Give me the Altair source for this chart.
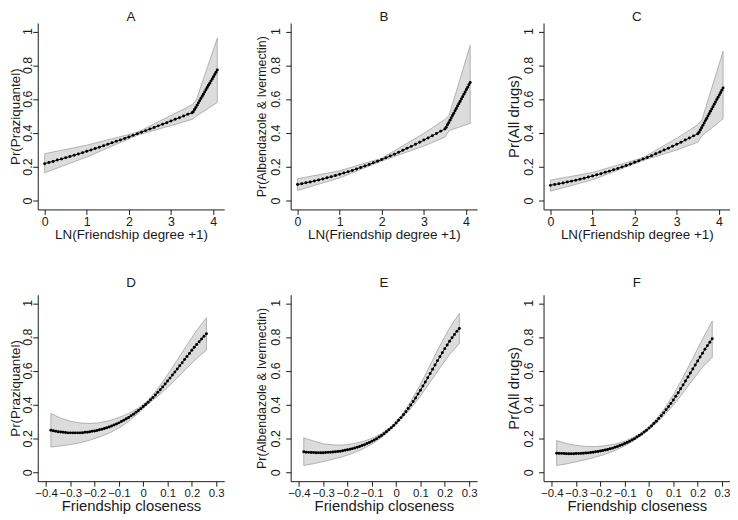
import altair as alt
import pandas as pd

# ---------------- data ----------------
# Top row: x = LN(Friendship degree +1)
X_DEG_MAIN = [0.0, 0.1, 0.2, 0.3, 0.4, 0.5, 0.6, 0.7, 0.8, 0.9, 1.0, 1.1, 1.2, 1.3, 1.4, 1.5,
              1.6, 1.7, 1.8, 1.9, 2.0, 2.1, 2.2, 2.3, 2.4, 2.5, 2.6, 2.7, 2.8, 2.9, 3.0, 3.1,
              3.2, 3.3, 3.4, 3.5]
X_DEG_STEEP = [3.53, 3.56, 3.59, 3.62, 3.65, 3.68, 3.71, 3.74, 3.77, 3.80, 3.83, 3.86, 3.89,
               3.92, 3.95, 3.98, 4.01, 4.04, 4.07, 4.10]

A_MAIN = [0.220, 0.227, 0.233, 0.241, 0.248, 0.255, 0.262, 0.270, 0.277, 0.285, 0.293, 0.301,
          0.309, 0.317, 0.326, 0.334, 0.343, 0.352, 0.360, 0.369, 0.378, 0.387, 0.397, 0.406,
          0.415, 0.424, 0.434, 0.443, 0.453, 0.462, 0.472, 0.482, 0.491, 0.501, 0.511, 0.520]
A_STEEP = [0.526, 0.539, 0.552, 0.565, 0.578, 0.591, 0.604, 0.617, 0.630, 0.643, 0.656, 0.669,
           0.682, 0.694, 0.707, 0.720, 0.733, 0.746, 0.759, 0.772]
B_MAIN = [0.097, 0.102, 0.107, 0.112, 0.118, 0.124, 0.130, 0.137, 0.143, 0.150, 0.157, 0.165,
          0.172, 0.180, 0.189, 0.197, 0.206, 0.215, 0.225, 0.234, 0.244, 0.255, 0.265, 0.276,
          0.287, 0.299, 0.311, 0.322, 0.334, 0.347, 0.359, 0.372, 0.385, 0.398, 0.412, 0.425]
B_STEEP = [0.435, 0.449, 0.462, 0.476, 0.490, 0.504, 0.518, 0.532, 0.546, 0.560, 0.574, 0.587,
           0.601, 0.615, 0.629, 0.643, 0.657, 0.671, 0.685, 0.699]
C_MAIN = [0.092, 0.097, 0.101, 0.106, 0.112, 0.117, 0.122, 0.128, 0.134, 0.141, 0.147, 0.154,
          0.161, 0.169, 0.176, 0.184, 0.192, 0.201, 0.209, 0.218, 0.228, 0.237, 0.247, 0.257,
          0.267, 0.278, 0.289, 0.300, 0.311, 0.323, 0.334, 0.346, 0.359, 0.371, 0.384, 0.396]
C_STEEP = [0.405, 0.418, 0.432, 0.446, 0.460, 0.474, 0.487, 0.501, 0.515, 0.529, 0.543, 0.556,
           0.570, 0.584, 0.598, 0.612, 0.625, 0.639, 0.653, 0.667]

# confidence bands, top row
A_BAND_X = [0, 1, 2.2, 3, 3.5, 3.6, 4.1]
A_BAND_HI = [0.279, 0.329, 0.405, 0.504, 0.567, 0.595, 0.960]
A_BAND_LO = [0.166, 0.259, 0.388, 0.445, 0.481, 0.500, 0.581]
B_BAND_X = [0, 1, 2, 3, 3.5, 3.6, 4.1]
B_BAND_HI = [0.131, 0.178, 0.252, 0.399, 0.481, 0.506, 0.918]
B_BAND_LO = [0.062, 0.136, 0.236, 0.324, 0.376, 0.415, 0.458]
C_BAND_X = [0, 1, 2.2, 3, 3.5, 3.6, 4.1]
C_BAND_HI = [0.123, 0.168, 0.255, 0.370, 0.450, 0.480, 0.883]
C_BAND_LO = [0.058, 0.125, 0.239, 0.301, 0.347, 0.385, 0.485]

# Bottom row: x = Friendship closeness
X_CLOSE = [-0.38, -0.37, -0.36, -0.35, -0.34, -0.33, -0.32, -0.31, -0.30, -0.29, -0.28, -0.27,
           -0.26, -0.25, -0.24, -0.23, -0.22, -0.21, -0.20, -0.19, -0.18, -0.17, -0.16, -0.15,
           -0.14, -0.13, -0.12, -0.11, -0.10, -0.09, -0.08, -0.07, -0.06, -0.05, -0.04, -0.03,
           -0.02, -0.01, 0.00, 0.01, 0.02, 0.03, 0.04, 0.05, 0.06, 0.07, 0.08, 0.09, 0.10,
           0.11, 0.12, 0.13, 0.14, 0.15, 0.16, 0.17, 0.18, 0.19, 0.20, 0.21, 0.22, 0.23, 0.24,
           0.25, 0.26]
D_VALS = [0.250, 0.247, 0.244, 0.242, 0.240, 0.238, 0.237, 0.235, 0.235, 0.235, 0.235, 0.235,
          0.235, 0.236, 0.238, 0.239, 0.241, 0.244, 0.246, 0.249, 0.253, 0.256, 0.261, 0.265,
          0.270, 0.276, 0.281, 0.288, 0.294, 0.302, 0.309, 0.318, 0.326, 0.336, 0.345, 0.356,
          0.367, 0.378, 0.390, 0.403, 0.416, 0.430, 0.444, 0.459, 0.474, 0.490, 0.506, 0.523,
          0.541, 0.558, 0.576, 0.594, 0.612, 0.631, 0.649, 0.668, 0.686, 0.704, 0.722, 0.740,
          0.757, 0.773, 0.789, 0.805, 0.820]
E_VALS = [0.123, 0.121, 0.120, 0.119, 0.119, 0.118, 0.118, 0.118, 0.118, 0.119, 0.120, 0.121,
          0.122, 0.123, 0.125, 0.127, 0.129, 0.132, 0.135, 0.138, 0.142, 0.146, 0.150, 0.155,
          0.160, 0.165, 0.172, 0.178, 0.185, 0.193, 0.201, 0.210, 0.220, 0.230, 0.241, 0.253,
          0.265, 0.279, 0.293, 0.309, 0.325, 0.342, 0.360, 0.379, 0.399, 0.420, 0.441, 0.464,
          0.487, 0.511, 0.535, 0.560, 0.585, 0.610, 0.635, 0.660, 0.684, 0.708, 0.732, 0.754,
          0.776, 0.796, 0.816, 0.834, 0.851]
F_VALS = [0.115, 0.114, 0.114, 0.113, 0.112, 0.112, 0.112, 0.112, 0.113, 0.113, 0.114, 0.115,
          0.116, 0.117, 0.119, 0.121, 0.123, 0.125, 0.128, 0.131, 0.134, 0.137, 0.141, 0.145,
          0.150, 0.155, 0.160, 0.165, 0.172, 0.178, 0.185, 0.193, 0.201, 0.210, 0.219, 0.229,
          0.240, 0.251, 0.263, 0.276, 0.290, 0.304, 0.320, 0.336, 0.353, 0.371, 0.389, 0.409,
          0.429, 0.451, 0.472, 0.495, 0.517, 0.541, 0.564, 0.588, 0.612, 0.636, 0.659, 0.683,
          0.705, 0.728, 0.749, 0.770, 0.790]

# confidence bands, bottom row
CLOSE_BAND_X = [-0.38, -0.34, -0.30, -0.26, -0.22, -0.18, -0.14, -0.10, -0.06, -0.02, 0.02,
                0.06, 0.10, 0.14, 0.18, 0.22, 0.26]
D_BAND_HI = [0.350, 0.322, 0.304, 0.293, 0.290, 0.295, 0.307, 0.325, 0.350, 0.382, 0.426,
             0.496, 0.578, 0.665, 0.754, 0.840, 0.914]
D_BAND_LO = [0.152, 0.158, 0.166, 0.177, 0.192, 0.211, 0.234, 0.264, 0.302, 0.352, 0.406,
             0.452, 0.504, 0.559, 0.618, 0.674, 0.723]
E_BAND_HI = [0.206, 0.187, 0.171, 0.164, 0.163, 0.170, 0.182, 0.202, 0.232, 0.273, 0.335,
             0.419, 0.522, 0.635, 0.750, 0.854, 0.940]
E_BAND_LO = [0.043, 0.053, 0.066, 0.080, 0.095, 0.114, 0.138, 0.168, 0.208, 0.257, 0.315,
             0.379, 0.452, 0.535, 0.618, 0.698, 0.762]
F_BAND_HI = [0.190, 0.172, 0.161, 0.155, 0.154, 0.159, 0.169, 0.186, 0.211, 0.247, 0.300,
             0.371, 0.459, 0.563, 0.675, 0.788, 0.895]
F_BAND_LO = [0.043, 0.052, 0.065, 0.077, 0.092, 0.109, 0.131, 0.158, 0.191, 0.233, 0.280,
             0.335, 0.399, 0.471, 0.549, 0.622, 0.680]

X_TICKS_DEG = [0, 1, 2, 3, 4]
X_TICKS_CLOSE = [-0.4, -0.3, -0.2, -0.1, 0, 0.1, 0.2, 0.3]
Y_TICKS = [0, 0.2, 0.4, 0.6, 0.8, 1]
Y_TICK_LABELS = ["0", "0.2", "0.4", "0.6", "0.8", "1"]

# ---------------- styling ----------------
FONT = "Liberation Sans"
INK = "#1a1a1a"
W = 188
H = 188


def panel(letter, xs, ys, bx, blo, bhi, xdom, xticks, xtitle, xtitle_fs, xlab_fs,
          ytitle, ytitle_fs, left_col, top_row):
    dots = pd.DataFrame({"x": xs, "y": ys})
    band = pd.DataFrame({"x": bx, "y": blo, "y2": bhi})
    lab = pd.DataFrame({"t": [letter]})
    ylab = pd.DataFrame({"y": Y_TICKS, "lab": Y_TICK_LABELS})

    xaxis = alt.Axis(values=xticks, format="~g", title=xtitle, titleFontSize=xtitle_fs,
                     titleY=29.8, titleBaseline="alphabetic", labelFontSize=xlab_fs,
                     labelPadding=1.0, tickSize=5)
    if left_col:
        lab_x, title_x, yt_fs = -5.6, -18.3, min(ytitle_fs, 13.5)
    else:
        lab_x, title_x, yt_fs = -11.0, -25.0, ytitle_fs
    yaxis = alt.Axis(values=Y_TICKS, labels=False, title=ytitle, titleFontSize=yt_fs,
                     tickSize=5, titleAngle=270, titleAlign="center",
                     titleBaseline="alphabetic", titleX=title_x, titleY=H / 2)

    X = alt.X("x:Q", scale=alt.Scale(domain=xdom, nice=False, zero=False), axis=xaxis)
    Y = alt.Y("y:Q", scale=alt.Scale(domain=[-0.05, 1.05], nice=False, zero=False), axis=yaxis)

    area = alt.Chart(band).mark_area(fill="#dcdcdc", stroke="#a3a3a3", strokeWidth=0.8,
                                     opacity=1).encode(x=X, y=Y, y2="y2:Q")
    line = alt.Chart(dots).mark_line(color="#111111", strokeWidth=1).encode(x=X, y=Y)
    pts = alt.Chart(dots).mark_circle(size=9, color="#000000", opacity=1).encode(x=X, y=Y)
    ylabels = alt.Chart(ylab).mark_text(font=FONT, fontSize=12.5, color=INK, angle=270,
                                        align="center", baseline="alphabetic").encode(
        x=alt.value(lab_x), y=Y, text="lab:N")
    ttl = alt.Chart(lab).mark_text(font=FONT, fontSize=13.5, color=INK, align="center",
                                   baseline="alphabetic").encode(
        text="t:N", x=alt.value(W / 2), y=alt.value(-2 if top_row else -7.7))
    return alt.layer(area, line, pts, ylabels, ttl).properties(width=W, height=H)


DEG_DOM = [-0.164, 4.264]
CLOSE_DOM = [-0.434, 0.333]
XT_DEG = "LN(Friendship degree +1)"
XT_CLOSE = "Friendship closeness"

pA = panel("A", X_DEG_MAIN + X_DEG_STEEP, A_MAIN + A_STEEP, A_BAND_X, A_BAND_LO, A_BAND_HI,
           DEG_DOM, X_TICKS_DEG, XT_DEG, 13.5, 12.5, "Pr(Praziquantel)", 14.8, True, True)
pB = panel("B", X_DEG_MAIN + X_DEG_STEEP, B_MAIN + B_STEEP, B_BAND_X, B_BAND_LO, B_BAND_HI,
           DEG_DOM, X_TICKS_DEG, XT_DEG, 13.5, 12.5, "Pr(Albendazole & Ivermectin)", 12.5,
           False, True)
pC = panel("C", X_DEG_MAIN + X_DEG_STEEP, C_MAIN + C_STEEP, C_BAND_X, C_BAND_LO, C_BAND_HI,
           DEG_DOM, X_TICKS_DEG, XT_DEG, 13.5, 12.5, "Pr(All drugs)", 15, False, True)
pD = panel("D", X_CLOSE, D_VALS, CLOSE_BAND_X, D_BAND_LO, D_BAND_HI,
           CLOSE_DOM, X_TICKS_CLOSE, XT_CLOSE, 15, 11.5, "Pr(Praziquantel)", 14.8, True, False)
pE = panel("E", X_CLOSE, E_VALS, CLOSE_BAND_X, E_BAND_LO, E_BAND_HI,
           CLOSE_DOM, X_TICKS_CLOSE, XT_CLOSE, 15, 11.5, "Pr(Albendazole & Ivermectin)", 12.5,
           False, False)
pF = panel("F", X_CLOSE, F_VALS, CLOSE_BAND_X, F_BAND_LO, F_BAND_HI,
           CLOSE_DOM, X_TICKS_CLOSE, XT_CLOSE, 15, 11.5, "Pr(All drugs)", 15, False, False)

chart = alt.concat(pA, pB, pC, pD, pE, pF, columns=3,
                   spacing={"row": 86, "column": 67}, bounds="flush")
chart = chart.properties(padding=0, background="white").configure_view(stroke=None).configure_axis(
    grid=False, domainColor=INK, domainWidth=1, tickColor=INK, tickWidth=1,
    labelColor=INK, titleColor=INK, labelFont=FONT, titleFont=FONT,
    titleFontWeight="normal", labelFlush=False, labelOverlap=False
)

chart.save("out.html", embed_options={"renderer": "svg", "actions": False})
